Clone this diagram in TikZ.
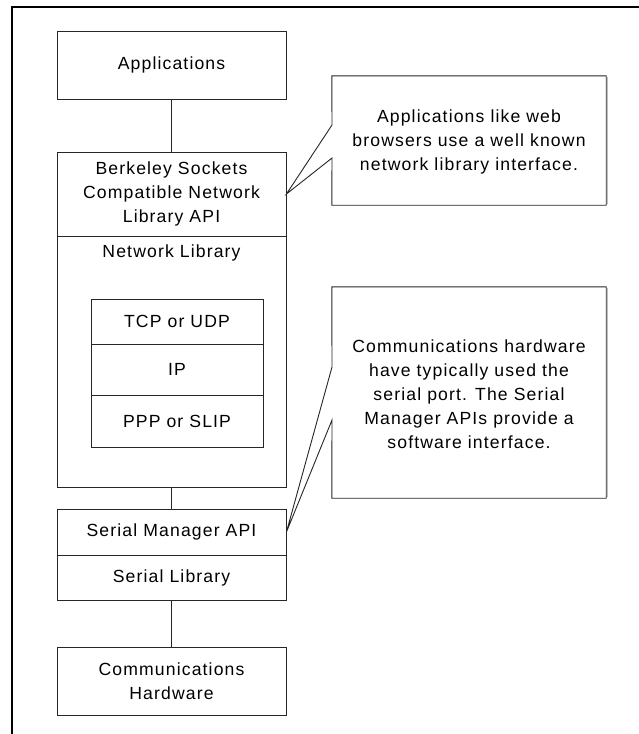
\documentclass[tikz,border=0pt]{standalone}
\usepackage{fontspec}
\setmainfont{Liberation Sans}[LetterSpace=6.5]
\begin{document}
\begin{tikzpicture}[x=1pt,y=-1pt,
  every node/.style={font=\fontsize{17.6}{24}\selectfont, align=center, inner sep=0pt},
  box/.style={draw=black!85, line width=0.9pt, minimum width=229pt},
  inbox/.style={draw=black!85, line width=0.9pt, minimum width=172pt},
  conn/.style={draw=black!85, line width=0.9pt},
  callout/.style={draw=black!85, line width=0.9pt, fill=white},
  shade/.style={draw=black!25, line width=1.2pt}]
\useasboundingbox (0,0) rectangle (639,734);
% frame
\draw[line width=1.2pt] (12,734) -- (12,7) -- (639,7);
% left stack
\node[box, minimum height=68pt] (app) at (171.5,65) {Applications};
\node[box, minimum height=84pt] (berk) at (171.5,194) {Berkeley Sockets\\Compatible Network\\Library API};
\node[box, minimum height=251pt] (netlib) at (171.5,361.5) {};
\node (netlbl) at (171.5,253) {Network Library};
\node[inbox, minimum height=45pt] (tcp) at (177,321.5) {TCP or UDP};
\node[inbox, minimum height=51pt] (ip) at (177,369.5) {IP};
\node[inbox, minimum height=52pt] (ppp) at (177,421) {PPP or SLIP};
\node[box, minimum height=46pt] (sm) at (171.5,532) {Serial Manager API};
\node[box, minimum height=45pt] (sl) at (171.5,577.5) {Serial Library};
\node[box, minimum height=68pt] (comm) at (171.5,681) {Communications\\Hardware};
\draw[conn] (app.south) -- (berk.north);
\draw[conn] (netlib.south) -- (sm.north);
\draw[conn] (sl.south) -- (comm.north);
% callout 1
\node[minimum width=274pt, minimum height=129pt] (c1) at (469,140.5) {};
\coordinate (c1a) at (332,125);
\coordinate (c1b) at (332,158);
\draw[shade] ([xshift=1.5pt,yshift=-1.5pt]c1.north east) -- ([xshift=1.5pt,yshift=1.5pt]c1.south east) -- ([xshift=1.5pt,yshift=1.5pt]c1.south west);
\draw[callout] (c1.north west) -- (c1.north east) -- (c1.south east) -- (c1.south west) -- (c1b) -- (berk.east) -- (c1a) -- cycle;
\node (c1t) at (469,142) {Applications like web\\browsers use a well known\\network library interface.};
% callout 2
\node[minimum width=274pt, minimum height=211pt] (c2) at (469,392.5) {};
\coordinate (c2a) at (332,367);
\coordinate (c2b) at (332,420);
\draw[shade] ([xshift=1.5pt,yshift=-1.5pt]c2.north east) -- ([xshift=1.5pt,yshift=1.5pt]c2.south east) -- ([xshift=1.5pt,yshift=1.5pt]c2.south west);
\draw[callout] (c2.north west) -- (c2.north east) -- (c2.south east) -- (c2.south west) -- (c2b) -- (sm.east) -- (c2a) -- cycle;
\node (c2t) at (469,394) {Communications hardware\\have typically used the\\serial port. The Serial\\Manager APIs provide a\\software interface.};
\end{tikzpicture}
\end{document}
